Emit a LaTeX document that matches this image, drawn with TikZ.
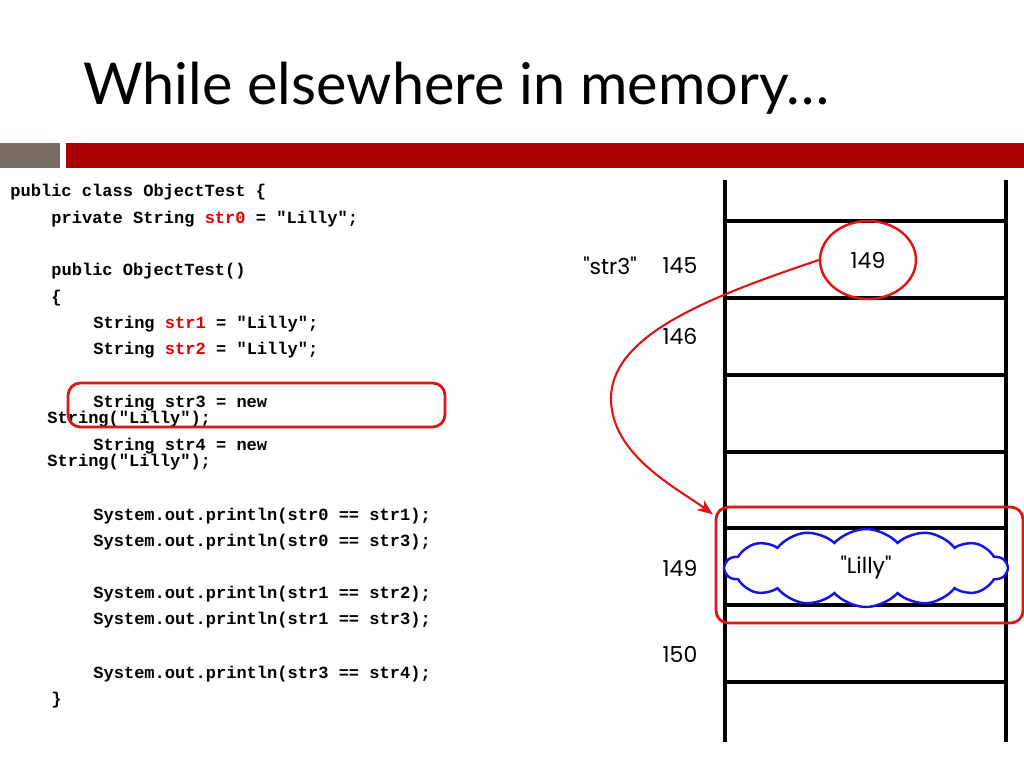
\documentclass[tikz,border=0pt]{standalone}
\usepackage{fontspec}
\setmainfont{Lato}
\setmonofont{Liberation Mono}
\newfontfamily\addrfont{Poppins}
\usetikzlibrary{shapes.symbols,shapes.geometric,arrows.meta}

\definecolor{barred}{RGB}{168,0,0}
\definecolor{bargray}{RGB}{122,107,99}
\definecolor{keyred}{RGB}{232,0,0}
\definecolor{hired}{RGB}{225,20,20}
\definecolor{cloudblue}{RGB}{20,20,230}

\newcommand{\kw}[1]{\textcolor{keyred}{#1}}

\tikzset{
  code/.style={anchor=base west, inner sep=0pt,
    font=\fontsize{9.7}{11}\selectfont\ttfamily\bfseries},
  addr/.style={inner sep=0pt, font=\addrfont\fontsize{12.5}{14}\selectfont},
  cell/.style={line width=2pt},
  hibox/.style={draw=hired, line width=1.6pt, rounded corners=7pt},
  ptrarrow/.style={draw=hired, line width=1.2pt, -{Stealth[length=9pt,width=7pt]}}
}

\begin{document}
\begin{tikzpicture}[x=0.02cm, y=-0.02cm]

% ----------------- Page -----------------
\fill[white] (0,0) rectangle (1024,768);
\useasboundingbox (0,0) rectangle (1024,768);

% ----------------- Title + bars -----------------
\node[anchor=base west, inner sep=0pt, font=\fontsize{32.8}{36}\selectfont]
  (title) at (83,104) {While elsewhere in memory…};
\fill[bargray] (0,143) rectangle (60,168);
\fill[barred]  (66,143) rectangle (1024,168);

% ----------------- Code -----------------
\node[code] (c1)  at (10,196)  {public class ObjectTest \{};
\node[code] (c2)  at (51,223)  {private String \kw{str0} = "Lilly";};
\node[code] (c3)  at (51,275)  {public ObjectTest()};
\node[code] (c4)  at (51,302)  {\{};
\node[code] (c5)  at (93,328)  {String \kw{str1} = "Lilly";};
\node[code] (c6)  at (93,354)  {String \kw{str2} = "Lilly";};
\node[code] (c7)  at (93,407)  {String str3 = new};
\node[code] (c8)  at (47,423)  {String("Lilly");};
\node[code] (c9)  at (93,450)  {String str4 = new};
\node[code] (c10) at (47,466)  {String("Lilly");};
\node[code] (c11) at (93,520)  {System.out.println(str0 == str1);};
\node[code] (c12) at (93,546)  {System.out.println(str0 == str3);};
\node[code] (c13) at (93,598)  {System.out.println(str1 == str2);};
\node[code] (c14) at (93,624)  {System.out.println(str1 == str3);};
\node[code] (c15) at (93,678)  {System.out.println(str3 == str4);};
\node[code] (c16) at (51,704)  {\}};

% highlight of the str3 line
\node[hibox, minimum width=7.54cm, minimum height=0.88cm] (codebox) at (256.5,405) {};

% ----------------- Memory cells -----------------
\draw[cell] (725,180) -- (725,742);
\draw[cell] (1006,180) -- (1006,742);
\foreach \y in {221,298,375,452,528,605,682}
  \draw[cell] (725,\y) -- (1006,\y);

% addresses
\node[addr] (name3) at (610,266) {"str3"};
\node[addr] (a145)  at (680,266) {145};
\node[addr] (a146)  at (680,336) {146};
\node[addr] (a149)  at (680,568) {149};
\node[addr] (a150)  at (680,654) {150};

% string object
\node[cloud, cloud puffs=14, cloud puff arc=95, cloud ignores aspect,
  draw=cloudblue, fill=white, line width=1.4pt,
  minimum width=5.64cm, minimum height=1.56cm, addr]
  (lilly) at (866,568) {"Lilly"};

\node[hibox, minimum width=6.14cm, minimum height=2.32cm] (heapbox) at (869.5,565) {};

% reference value
\node[draw=hired, line width=1.4pt, ellipse, minimum width=1.92cm,
  minimum height=1.56cm, addr] (ptr) at (868,260) {149};

% pointer
\draw[ptrarrow] (ptr.west) .. controls (700,300) and (600,340) .. (612,410)
  .. controls (620,460) and (680,490) .. ([xshift=-1pt,yshift=-5pt]heapbox.north west);

\end{tikzpicture}
\end{document}
